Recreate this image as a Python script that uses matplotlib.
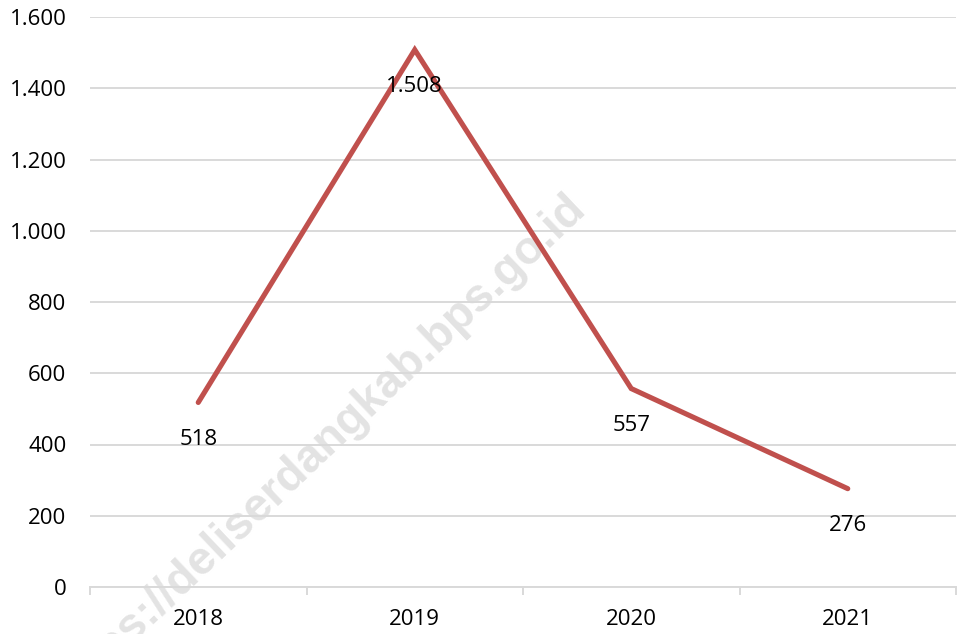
import matplotlib
matplotlib.use("Agg")
import matplotlib.pyplot as plt
from matplotlib.ticker import FuncFormatter, MultipleLocator, FixedLocator

plt.rcParams['font.family'] = ['Open Sans', 'DejaVu Sans']

years = ["2018", "2019", "2020", "2021"]
values = [518, 1508, 557, 276]

fig = plt.figure(figsize=(9.61, 6.34), dpi=100)
ax = fig.add_axes([90/961, 1 - 587/634, (956-90)/961, (587-17)/634])
ax.patch.set_visible(False)

x = list(range(len(years)))
ax.plot(x, values, color="#C0504D", lw=3.7, solid_capstyle="round",
        solid_joinstyle="miter", zorder=3)

def dots(v, pos):
    return f"{int(v):,}".replace(",", ".")

for xi, v in zip(x, values):
    ax.annotate(dots(v, None), (xi, v), xytext=(0, -26.5), textcoords="offset points",
                ha="center", va="center", fontsize=16, color="black", zorder=4)

ax.set_xlim(-0.5, len(years) - 0.5)
ax.set_ylim(0, 1600)
ax.yaxis.set_major_locator(MultipleLocator(200))
ax.yaxis.set_major_formatter(FuncFormatter(dots))
ax.set_xticks(x)
ax.set_xticklabels(years)
ax.xaxis.set_minor_locator(FixedLocator([i - 0.5 for i in range(len(years) + 1)]))

ax.grid(axis="y", color="#D9D9D9", lw=1.4, zorder=0)
ax.set_axisbelow(True)
for s in ["top", "right", "left"]:
    ax.spines[s].set_visible(False)
ax.spines["bottom"].set_color("#D9D9D9")
ax.spines["bottom"].set_linewidth(1.4)

ax.tick_params(axis="y", length=0, pad=17, labelsize=16)
ax.tick_params(axis="x", which="major", length=0, pad=16, labelsize=16)
ax.tick_params(axis="x", which="minor", length=6, width=1.4, color="#D9D9D9")

# watermark behind the chart
fig.text(328/961, 1 - 456/634, "https://deliserdangkab.bps.go.id",
         rotation=43.5, rotation_mode="anchor", ha="center", va="baseline",
         fontsize=33.5, fontweight="bold", family="Liberation Sans",
         color="#E3E3E3", zorder=-1)

fig.savefig("out.png", dpi=100)
